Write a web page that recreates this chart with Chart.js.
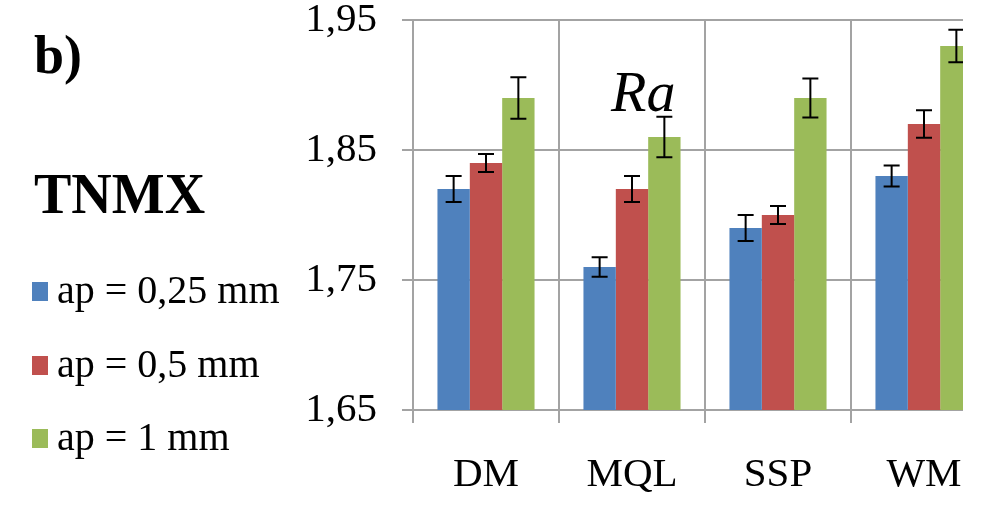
<!DOCTYPE html>
<html>
<head>
<meta charset="utf-8">
<script src="https://cdn.jsdelivr.net/npm/chart.js@4/dist/chart.umd.min.js"></script>
<style>
  html, body { margin:0; padding:0; background:#fff; width:1003px; height:525px; overflow:hidden; }
  .serif { font-family: "Liberation Serif", Tinos, "Times New Roman", "Noto Serif", "DejaVu Serif", serif; color:#000; line-height:1; position:absolute; white-space:nowrap; }
  #clip { position:absolute; left:0; top:0; width:963px; height:525px; overflow:hidden; }
  #inner { position:relative; width:1000px; height:525px; }
  .sw { position:absolute; width:16px; height:19px; }
</style>
</head>
<body>
<div id="clip"><div id="inner"><canvas id="c"></canvas></div></div>
<div class="serif" style="left:34px; top:28px; font-size:54px; font-weight:bold;">b)</div>
<div class="serif" style="left:34px; top:166px; font-size:56px; font-weight:bold;">TNMX</div>
<div class="serif" style="left:611px; top:63px; font-size:58px; font-style:italic;">Ra</div>
<div id="legend"></div>
<script>
// ---- data ----
const categories = ["DM", "MQL", "SSP", "WM"];
const seriesLabels = ["ap = 0,25 mm", "ap = 0,5 mm", "ap = 1 mm"];
const ap025 = [1.82, 1.76, 1.79, 1.83];
const ap05  = [1.84, 1.82, 1.80, 1.87];
const ap1   = [1.89, 1.86, 1.89, 1.93];
const err025 = [0.010, 0.0075, 0.010, 0.008];
const err05  = [0.007, 0.010, 0.007, 0.0105];
const err1   = [0.016, 0.0155, 0.015, 0.0125];
const yTicks = [1.65, 1.75, 1.85, 1.95];
const colors = ["#4F81BD", "#C0504D", "#9BBB59"];

const seriesValues = [ap025, ap05, ap1];
const seriesErrors = [err025, err05, err1];

// legend (HTML, from arrays)
const legendEl = document.getElementById('legend');
const rowTops = [270, 344, 417];
seriesLabels.forEach((lab, i) => {
  const sw = document.createElement('div');
  sw.className = 'sw';
  sw.style.left = '32px';
  sw.style.top = (rowTops[i] + 12) + 'px';
  sw.style.background = colors[i];
  legendEl.appendChild(sw);
  const t = document.createElement('div');
  t.className = 'serif';
  t.style.left = '57px';
  t.style.top = rowTops[i] + 'px';
  t.style.fontSize = '40px';
  t.textContent = lab;
  legendEl.appendChild(t);
});

const FONT = '"Liberation Serif", Tinos, "Times New Roman", "Noto Serif", "DejaVu Serif", serif';
const GRID = '#a3a3a3';

const errorBars = {
  id: 'errorBars',
  afterDatasetsDraw(chart) {
    const ctx = chart.ctx;
    const ys = chart.scales.y;
    ctx.save();
    ctx.strokeStyle = '#000';
    ctx.lineWidth = 2;
    chart.data.datasets.forEach((ds, di) => {
      const meta = chart.getDatasetMeta(di);
      meta.data.forEach((bar, i) => {
        const v = ds.data[i], e = ds.errors[i];
        const x = bar.x;
        const yTop = ys.getPixelForValue(v + e);
        const yBot = ys.getPixelForValue(v - e);
        ctx.beginPath();
        ctx.moveTo(x, yTop); ctx.lineTo(x, yBot);
        ctx.moveTo(x - 8, yTop); ctx.lineTo(x + 8, yTop);
        ctx.moveTo(x - 8, yBot); ctx.lineTo(x + 8, yBot);
        ctx.stroke();
      });
    });
    ctx.restore();
  }
};

new Chart(document.getElementById('c'), {
  type: 'bar',
  data: {
    labels: categories,
    datasets: seriesLabels.map((lab, i) => ({
      label: lab,
      data: seriesValues[i],
      errors: seriesErrors[i],
      backgroundColor: colors[i],
      borderWidth: 0,
      barPercentage: 1.0,
      categoryPercentage: 0.665
    }))
  },
  options: {
    responsive: true,
    maintainAspectRatio: false,
    animation: false,
    layout: { padding: { top: 0, right: 3, left: 0, bottom: 0 } },
    plugins: { legend: { display: false }, tooltip: { enabled: false } },
    scales: {
      x: {
        grid: { color: GRID, lineWidth: 2, tickLength: 13, offset: true, drawTicks: true },
        border: { color: GRID, width: 2 },
        ticks: { color: '#000', font: { family: FONT, size: 41 }, padding: 28, maxRotation: 0 },
        afterFit(scale) { scale.height = 115; scale.paddingLeft = 0; scale.paddingRight = 0; }
      },
      y: {
        min: 1.65, max: 1.95,
        afterBuildTicks(scale) { scale.ticks = yTicks.map(v => ({ value: v })); },
        grid: { color: GRID, lineWidth: 2, tickLength: 11 },
        border: { color: GRID, width: 2 },
        ticks: {
          color: '#000',
          font: { family: FONT, size: 41 },
          padding: 25,
          callback: v => v.toFixed(2).replace('.', ',')
        },
        afterFit(scale) { scale.width = 413; scale.paddingTop = 20; scale.paddingBottom = 0; }
      }
    }
  },
  plugins: [errorBars]
});
</script>
</body>
</html>
